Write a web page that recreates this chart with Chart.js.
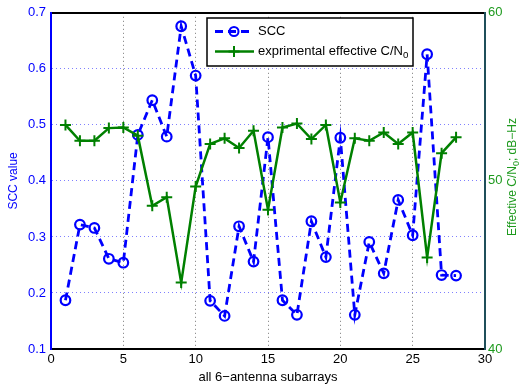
<!DOCTYPE html>
<html>
<head>
<meta charset="utf-8">
<script src="https://cdn.jsdelivr.net/npm/chart.js@4.4.1/dist/chart.umd.min.js"></script>
<style>
html,body{margin:0;padding:0;background:#fff;}
canvas{display:block;}
</style>
</head>
<body>
<canvas id="c" width="524" height="386"></canvas>
<script>
// ---- data ----
const subarrays = [1,2,3,4,5,6,7,8,9,10,11,12,13,14,15,16,17,18,19,20,21,22,23,24,25,26,27,28];
const sccValues = [0.187,0.322,0.316,0.261,0.254,0.482,0.544,0.479,0.676,0.588,0.186,0.159,0.319,0.256,0.478,0.187,0.161,0.328,0.264,0.477,0.161,0.291,0.235,0.366,0.303,0.626,0.232,0.231];
const cnoValues = [53.33,52.39,52.39,53.14,53.18,52.69,48.52,49.03,43.95,49.66,52.20,52.53,51.96,52.98,48.29,53.18,53.41,52.49,53.33,48.72,52.53,52.39,52.88,52.20,52.88,45.45,51.65,52.59];
const xTickValues = [0,5,10,15,20,25,30];
const leftTickValues = [0.1,0.2,0.3,0.4,0.5,0.6,0.7];
const rightTickValues = [40,50,60];
const seriesNames = ['SCC','exprimental effective C/N'];
const xTitle = 'all 6\u2212antenna subarrays';
const leftTitle = 'SCC value';

const FONT = '"Liberation Sans", Arial, Helvetica, sans-serif';
const BLUE = '#0000ff';
const GREEN = '#008000';
const LABELGREEN = '#1e9a1e';

function drawSub(ctx, parts, x, y, size) {
  let cx = x;
  parts.forEach(p => {
    if (p[1]) {
      ctx.font = (size*0.75) + 'px ' + FONT;
      ctx.fillText(p[0], cx, y + size*0.3);
    } else {
      ctx.font = size + 'px ' + FONT;
      ctx.fillText(p[0], cx, y);
    }
    cx += ctx.measureText(p[0]).width;
  });
  return cx - x;
}
function measureSub(ctx, parts, size) {
  let w = 0;
  parts.forEach(p => {
    ctx.font = (p[1] ? size*0.75 : size) + 'px ' + FONT;
    w += ctx.measureText(p[0]).width;
  });
  return w;
}

const decorPlugin = {
  id: 'decor',
  afterDraw(chart) {
    const ctx = chart.ctx;
    ctx.save();
    // legend box
    const bx = 207, by = 18, bw = 206, bh = 48;
    ctx.fillStyle = '#fff';
    ctx.fillRect(bx, by, bw, bh);
    ctx.strokeStyle = '#000';
    ctx.lineWidth = 1.5;
    ctx.strokeRect(bx, by, bw, bh);
    const y1 = 31.5, y2 = 51.5;
    ctx.strokeStyle = BLUE;
    ctx.lineWidth = 2.8;
    ctx.setLineDash([8,5]);
    ctx.beginPath(); ctx.moveTo(215, y1); ctx.lineTo(254, y1); ctx.stroke();
    ctx.setLineDash([]);
    ctx.lineWidth = 2;
    ctx.beginPath(); ctx.arc(234, y1, 4.5, 0, Math.PI*2); ctx.stroke();
    ctx.strokeStyle = GREEN;
    ctx.lineWidth = 2.5;
    ctx.beginPath(); ctx.moveTo(215, y2); ctx.lineTo(254, y2); ctx.stroke();
    ctx.lineWidth = 2;
    ctx.beginPath(); ctx.moveTo(228.5, y2); ctx.lineTo(239.5, y2); ctx.moveTo(234, y2-5.5); ctx.lineTo(234, y2+5.5); ctx.stroke();
    ctx.fillStyle = '#000';
    ctx.textBaseline = 'middle';
    ctx.textAlign = 'left';
    drawSub(ctx, [[seriesNames[0], false]], 258, y1, 13);
    drawSub(ctx, [[seriesNames[1], false], ['0', true]], 258, y2, 13);
    // right axis title (rotated, bottom-to-top)
    const parts = [['Effective C/N', false], ['0', true], ['; dB\u2212Hz', false]];
    const w = measureSub(ctx, parts, 12);
    ctx.translate(513, 177);
    ctx.rotate(-Math.PI/2);
    ctx.fillStyle = LABELGREEN;
    drawSub(ctx, parts, -w/2, 0, 12);
    ctx.restore();
  }
};

const hideEdge = (vals) => (c) => {
  const v = c.tick ? c.tick.value : null;
  if (v === null) return 'transparent';
  if (Math.abs(v - vals[0]) < 1e-9 || Math.abs(v - vals[1]) < 1e-9) return 'transparent';
  return vals[2];
};

new Chart(document.getElementById('c'), {
  type: 'line',
  data: {
    datasets: [
      {
        label: seriesNames[1],
        data: subarrays.map((x, i) => ({x: x, y: cnoValues[i]})),
        yAxisID: 'y1',
        xAxisID: 'x',
        borderColor: GREEN,
        borderWidth: 2.5,
        pointStyle: 'cross',
        pointRadius: 5.5,
        pointBorderWidth: 2,
        pointBorderColor: GREEN,
        fill: false,
        tension: 0,
        order: 1
      },
      {
        label: seriesNames[0],
        data: subarrays.map((x, i) => ({x: x, y: sccValues[i]})),
        yAxisID: 'y',
        xAxisID: 'x',
        borderColor: BLUE,
        borderWidth: 2.8,
        borderDash: [8, 5],
        pointStyle: 'circle',
        pointRadius: 4.8,
        pointBorderWidth: 2.2,
        pointBorderColor: BLUE,
        pointBackgroundColor: 'rgba(0,0,0,0)',
        fill: false,
        tension: 0,
        order: 2
      }
    ]
  },
  options: {
    responsive: false,
    animation: false,
    layout: {padding: 0},
    plugins: {legend: {display: false}, tooltip: {enabled: false}},
    scales: {
      x: {
        type: 'linear', position: 'bottom', min: 0, max: 30,
        afterBuildTicks: s => { s.ticks = xTickValues.map(v => ({value: v})); },
        afterFit: s => { s.height = 37; },
        ticks: {color: '#000', font: {family: FONT, size: 13}, padding: 3, maxRotation: 0},
        grid: {drawTicks: false, color: hideEdge([0, 30, '#777777']), lineWidth: 1},
        border: {display: true, color: '#000', width: 2, dash: [1, 3]},
        title: {display: true, text: xTitle, color: '#000', font: {family: FONT, size: 13}, padding: {top: 0, bottom: 1}}
      },
      x2: {
        type: 'linear', position: 'top', min: 0, max: 30,
        afterFit: s => { s.height = 6; },
        ticks: {display: false},
        grid: {display: false, drawTicks: false},
        border: {display: true, color: '#000', width: 2}
      },
      y: {
        type: 'linear', position: 'left', min: 0.1, max: 0.7,
        afterBuildTicks: s => { s.ticks = leftTickValues.map(v => ({value: v})); },
        afterFit: s => { s.width = 51; },
        ticks: {color: BLUE, font: {family: FONT, size: 13}, padding: 5, callback: v => Number(v).toFixed(1)},
        grid: {drawTicks: false, color: hideEdge([0.1, 0.7, '#8080ff']), lineWidth: 1},
        border: {display: true, color: BLUE, width: 2, dash: [1, 3]},
        title: {display: true, text: leftTitle, color: BLUE, font: {family: FONT, size: 12}, padding: {top: 6, bottom: 0}}
      },
      y1: {
        type: 'linear', position: 'right', min: 40, max: 60,
        afterBuildTicks: s => { s.ticks = rightTickValues.map(v => ({value: v})); },
        afterFit: s => { s.width = 39; },
        ticks: {color: LABELGREEN, font: {family: FONT, size: 13}, padding: 3},
        grid: {drawOnChartArea: false, drawTicks: false},
        border: {display: true, color: '#1f4f5a', width: 2}
      }
    }
  },
  plugins: [decorPlugin]
});
</script>
</body>
</html>
